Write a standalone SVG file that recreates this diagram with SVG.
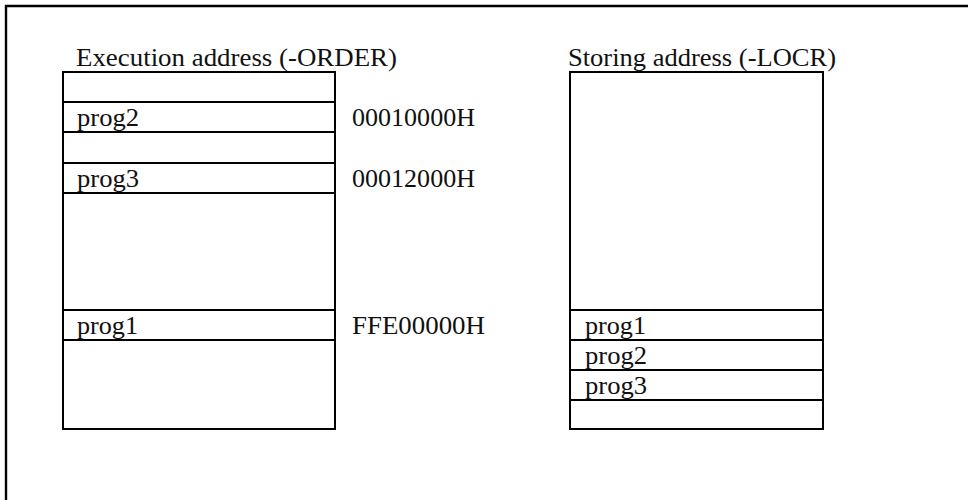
<svg xmlns="http://www.w3.org/2000/svg" width="968" height="500" viewBox="0 0 968 500">
  <style>
    .frame { stroke: #000; stroke-width: 2.4; fill: none; }
    .box { fill: #fff; stroke: #000; stroke-width: 2; }
    .div { stroke: #000; stroke-width: 2; }
    text { font-family: "Liberation Serif", "Times New Roman", serif; font-size: 25px; fill: #111; }
  </style>
  <rect width="968" height="500" fill="#fff"/>

  <!-- outer frame (open to the right and bottom) -->
  <path class="frame" d="M6 501 V6 H969"/>

  <!-- execution address map -->
  <g id="execution-map">
    <text x="76" y="66" textLength="321" lengthAdjust="spacingAndGlyphs">Execution address (-ORDER)</text>
    <rect class="box" x="63" y="72" width="272" height="357"/>
    <line class="div" x1="63" y1="102" x2="335" y2="102"/>
    <line class="div" x1="63" y1="132" x2="335" y2="132"/>
    <line class="div" x1="63" y1="163" x2="335" y2="163"/>
    <line class="div" x1="63" y1="193" x2="335" y2="193"/>
    <line class="div" x1="63" y1="310" x2="335" y2="310"/>
    <line class="div" x1="63" y1="340" x2="335" y2="340"/>
    <text x="77" y="126" textLength="62" lengthAdjust="spacingAndGlyphs">prog2</text>
    <text x="77" y="187" textLength="62" lengthAdjust="spacingAndGlyphs">prog3</text>
    <text x="77" y="334" textLength="61" lengthAdjust="spacingAndGlyphs">prog1</text>
  </g>

  <!-- start addresses -->
  <g id="addresses">
    <text x="352" y="126" textLength="123" lengthAdjust="spacingAndGlyphs">00010000H</text>
    <text x="352" y="187" textLength="123" lengthAdjust="spacingAndGlyphs">00012000H</text>
    <text x="352" y="334" textLength="133" lengthAdjust="spacingAndGlyphs">FFE00000H</text>
  </g>

  <!-- storing address map -->
  <g id="storing-map">
    <text x="568" y="66" textLength="268" lengthAdjust="spacingAndGlyphs">Storing address (-LOCR)</text>
    <rect class="box" x="570" y="72" width="253" height="357"/>
    <line class="div" x1="570" y1="310" x2="823" y2="310"/>
    <line class="div" x1="570" y1="340" x2="823" y2="340"/>
    <line class="div" x1="570" y1="370" x2="823" y2="370"/>
    <line class="div" x1="570" y1="400" x2="823" y2="400"/>
    <text x="585" y="334" textLength="61" lengthAdjust="spacingAndGlyphs">prog1</text>
    <text x="585" y="364" textLength="62" lengthAdjust="spacingAndGlyphs">prog2</text>
    <text x="585" y="394" textLength="62" lengthAdjust="spacingAndGlyphs">prog3</text>
  </g>

  <g id="connectors"/>
</svg>
